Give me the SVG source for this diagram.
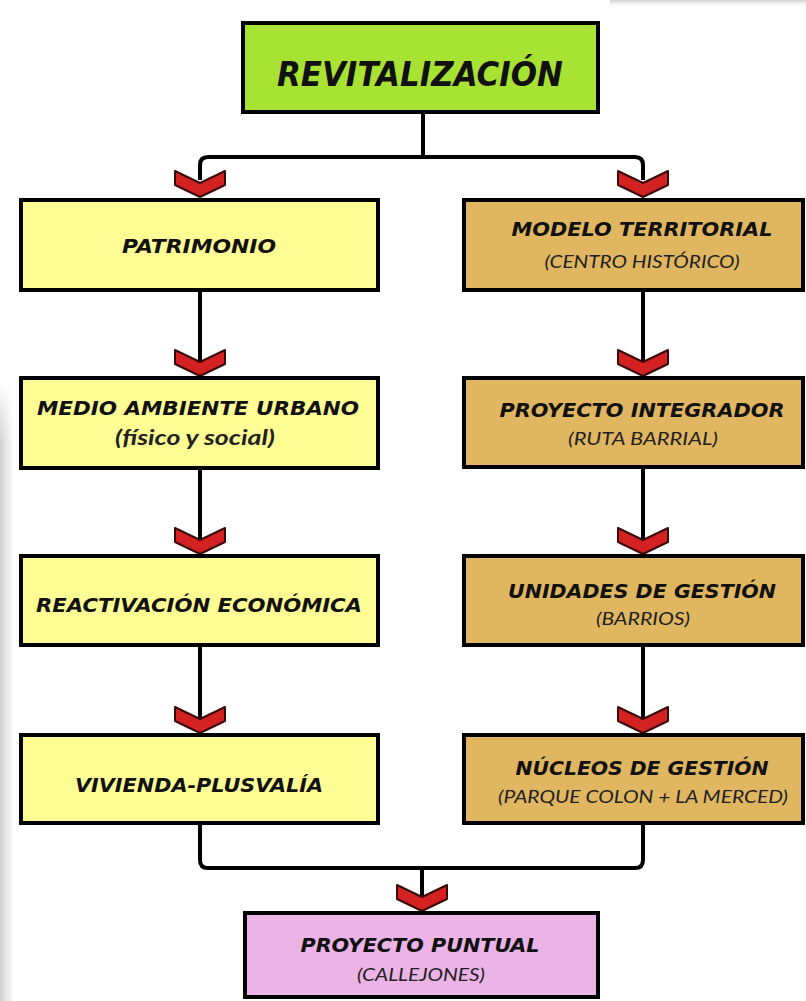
<svg xmlns="http://www.w3.org/2000/svg" width="806" height="1001" viewBox="0 0 806 1001">
<defs>
<linearGradient id="lg" x1="0" y1="0" x2="1" y2="0">
<stop offset="0" stop-color="#a8a8a8" stop-opacity="0.55"/>
<stop offset="0.6" stop-color="#cfcfcf" stop-opacity="0.35"/>
<stop offset="1" stop-color="#ffffff" stop-opacity="0"/>
</linearGradient>
<linearGradient id="lv" x1="0" y1="0" x2="0" y2="1">
<stop offset="0" stop-color="#fff" stop-opacity="0"/>
<stop offset="0.1" stop-color="#fff" stop-opacity="1"/>
</linearGradient>
<mask id="lm"><rect x="0" y="380" width="16" height="621" fill="url(#lv)"/></mask>
<linearGradient id="tg" x1="0" y1="0" x2="0" y2="1">
<stop offset="0" stop-color="#bdbdbd" stop-opacity="0.7"/>
<stop offset="1" stop-color="#ffffff" stop-opacity="0"/>
</linearGradient>
<polygon id="chev" points="-25,-26 0,-14 25,-26 25,-12 0,0 -25,-12"/>
</defs>
<style>
.box{stroke:#000;stroke-width:4}
.lime{fill:#a8e232}
.yel{fill:#fdfd94}
.tan{fill:#e0b660}
.pink{fill:#ebb3e6}
.main{font-family:"DejaVu Sans",Verdana,sans-serif;font-weight:bold;font-style:italic;fill:#111;text-anchor:middle}
.sub{font-family:Lato,"Open Sans",sans-serif;font-style:italic;fill:#222;text-anchor:middle}
.conn{fill:none;stroke:#000;stroke-width:4}
.arr{fill:#d42222;stroke:#3a0808;stroke-width:2;stroke-linejoin:round}
</style>
<rect width="806" height="1001" fill="#ffffff"/>
<rect x="0" y="380" width="16" height="621" fill="url(#lg)" mask="url(#lm)"/>
<rect x="610" y="0" width="196" height="8" fill="url(#tg)"/>

<g id="connectors">
<path class="conn" d="M423,112 V157"/>
<path class="conn" d="M200,180 V165 Q200,157 208,157 H635 Q643,157 643,165 V180"/>
<path class="conn" d="M200,290 V370"/>
<path class="conn" d="M200,468 V548"/>
<path class="conn" d="M200,645 V728"/>
<path class="conn" d="M643,290 V370"/>
<path class="conn" d="M643,467 V548"/>
<path class="conn" d="M643,645 V728"/>
<path class="conn" d="M200,823 V860 Q200,868 208,868 H635 Q643,868 643,860 V823"/>
<path class="conn" d="M422,868 V905"/>
<use href="#chev" class="arr" x="200" y="197"/>
<use href="#chev" class="arr" x="643" y="197"/>
<use href="#chev" class="arr" x="200" y="376"/>
<use href="#chev" class="arr" x="643" y="376"/>
<use href="#chev" class="arr" x="200" y="554"/>
<use href="#chev" class="arr" x="643" y="554"/>
<use href="#chev" class="arr" x="200" y="733"/>
<use href="#chev" class="arr" x="643" y="733"/>
<use href="#chev" class="arr" x="422" y="911"/>
</g>

<g id="revitalizacion">
<rect class="box lime" x="243" y="23" width="355" height="89"/>
<text class="main" x="420" y="86" font-size="34" textLength="286" lengthAdjust="spacingAndGlyphs">REVITALIZACIÓN</text>
</g>

<g id="patrimonio">
<rect class="box yel" x="21" y="200" width="357" height="90"/>
<text class="main" x="199" y="253" font-size="20" textLength="154" lengthAdjust="spacingAndGlyphs">PATRIMONIO</text>
</g>

<g id="medio-ambiente">
<rect class="box yel" x="21" y="378" width="357" height="90"/>
<text class="main" x="198" y="415" font-size="20" textLength="322" lengthAdjust="spacingAndGlyphs">MEDIO AMBIENTE URBANO</text>
<text class="sub" x="195" y="445" font-size="21" font-weight="bold" textLength="160" lengthAdjust="spacingAndGlyphs">(físico y social)</text>
</g>

<g id="reactivacion">
<rect class="box yel" x="21" y="556" width="357" height="89"/>
<text class="main" x="199" y="612" font-size="20" textLength="326" lengthAdjust="spacingAndGlyphs">REACTIVACIÓN ECONÓMICA</text>
</g>

<g id="vivienda">
<rect class="box yel" x="21" y="735" width="357" height="88"/>
<text class="main" x="199" y="792" font-size="20" textLength="248" lengthAdjust="spacingAndGlyphs">VIVIENDA-PLUSVALÍA</text>
</g>

<g id="modelo-territorial">
<rect class="box tan" x="464" y="200" width="339" height="90"/>
<text class="main" x="642" y="236" font-size="20" textLength="261" lengthAdjust="spacingAndGlyphs">MODELO TERRITORIAL</text>
<text class="sub" x="642" y="268" font-size="18" textLength="195" lengthAdjust="spacingAndGlyphs">(CENTRO HISTÓRICO)</text>
</g>

<g id="proyecto-integrador">
<rect class="box tan" x="464" y="378" width="339" height="89"/>
<text class="main" x="642" y="417" font-size="20" textLength="285" lengthAdjust="spacingAndGlyphs">PROYECTO INTEGRADOR</text>
<text class="sub" x="643" y="445" font-size="18" textLength="150" lengthAdjust="spacingAndGlyphs">(RUTA BARRIAL)</text>
</g>

<g id="unidades-gestion">
<rect class="box tan" x="464" y="556" width="339" height="89"/>
<text class="main" x="642" y="598" font-size="20" textLength="268" lengthAdjust="spacingAndGlyphs">UNIDADES DE GESTIÓN</text>
<text class="sub" x="643" y="625" font-size="18" textLength="94" lengthAdjust="spacingAndGlyphs">(BARRIOS)</text>
</g>

<g id="nucleos-gestion">
<rect class="box tan" x="464" y="735" width="339" height="88"/>
<text class="main" x="642" y="775" font-size="20" textLength="253" lengthAdjust="spacingAndGlyphs">NÚCLEOS DE GESTIÓN</text>
<text class="sub" x="643" y="803" font-size="18" textLength="290" lengthAdjust="spacingAndGlyphs">(PARQUE COLON + LA MERCED)</text>
</g>

<g id="proyecto-puntual">
<rect class="box pink" x="245" y="913" width="353" height="84"/>
<text class="main" x="420" y="952" font-size="20" textLength="239" lengthAdjust="spacingAndGlyphs">PROYECTO PUNTUAL</text>
<text class="sub" x="421" y="981" font-size="18" textLength="128" lengthAdjust="spacingAndGlyphs">(CALLEJONES)</text>
</g>
</svg>
